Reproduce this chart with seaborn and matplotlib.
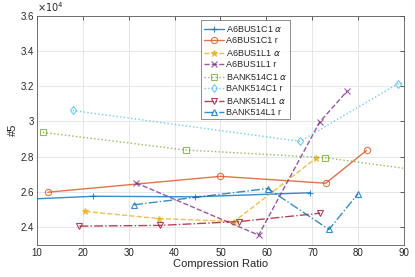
import matplotlib
matplotlib.use("Agg")
import matplotlib.pyplot as plt
import seaborn as sns
from matplotlib.ticker import FuncFormatter

# values (y in raw units, shown as x10^4)
a6c1_alpha_x = [5.0, 22.3, 44.45, 69.55]
a6c1_alpha_y = [25560, 25760, 25730, 25960]
a6c1_r_x = [12.4, 50.0, 72.9, 81.8]
a6c1_r_y = [25990, 26890, 26500, 28360]
a6l1_alpha_x = [20.6, 36.55, 53.0, 70.85]
a6l1_alpha_y = [24900, 24500, 24330, 27930]
a6l1_r_x = [31.6, 58.3, 71.6, 77.5]
a6l1_r_y = [26520, 23560, 29970, 31700]
b5c1_alpha_x = [11.37, 42.5, 72.7, 100.0]
b5c1_alpha_y = [29380, 28380, 27950, 26990]
b5c1_r_x = [17.83, 67.3, 88.6, 100.0]
b5c1_r_y = [30620, 28870, 32130, 32400]
b5l1_alpha_x = [19.3, 36.8, 54.1, 71.7]
b5l1_alpha_y = [24070, 24110, 24330, 24800]
b5l1_r_x = [31.2, 60.3, 73.6, 79.85]
b5l1_r_y = [25280, 26200, 23880, 25880]

labels = [r"A6BUS1C1 $\alpha$", "A6BUS1C1 r", r"A6BUS1L1 $\alpha$", "A6BUS1L1 r",
          r"BANK514C1 $\alpha$", "BANK514C1 r", r"BANK514L1 $\alpha$", "BANK514L1 r"]

series = [
    (a6c1_alpha_x, a6c1_alpha_y, "#0072BD", "-", "+"),
    (a6c1_r_x, a6c1_r_y, "#D95319", "-", "o"),
    (a6l1_alpha_x, a6l1_alpha_y, "#EDB120", "--", "*"),
    (a6l1_r_x, a6l1_r_y, "#7E2F8E", "--", "x"),
    (b5c1_alpha_x, b5c1_alpha_y, "#77AC30", ":", "s"),
    (b5c1_r_x, b5c1_r_y, "#4DBEEE", ":", "d"),
    (b5l1_alpha_x, b5l1_alpha_y, "#A2142F", "-.", "v"),
    (b5l1_r_x, b5l1_r_y, "#0072BD", "-.", "^"),
]

sns.set_theme(style="white")
plt.rcParams['font.family'] = ['Liberation Sans', 'DejaVu Sans']

fig = plt.figure(figsize=(4.15, 2.77), dpi=100)
ax = fig.add_axes([0.0884, 0.1155, 0.8858, 0.8285])

for (xs, ys, c, ls, m), lab in zip(series, labels):
    face = c if m == "*" else "none"
    sns.lineplot(x=xs, y=ys, ax=ax, color=c, linestyle=ls, marker=m, sort=False,
                 markersize=4.5, markerfacecolor=face, markeredgecolor=c,
                 markeredgewidth=0.8, linewidth=1.0, alpha=0.8, label=lab)

ax.set_xlim(10, 90)
ax.set_ylim(23000, 36000)
ax.set_xticks(range(10, 91, 10))
ax.set_yticks([24000, 26000, 28000, 30000, 32000, 34000, 36000])
ax.yaxis.set_major_formatter(FuncFormatter(lambda v, p: f"{v/1e4:g}"))
ax.grid(True, color="#e3e3e3", linewidth=0.6)
ax.tick_params(direction="in", length=3, width=0.5, labelsize=7, colors="#262626",
               top=True, right=True, pad=2)
for s in ax.spines.values():
    s.set_color("#5a5a5a")
    s.set_linewidth(0.6)

ax.set_xlabel("Compression Ratio", fontsize=8, color="#262626", labelpad=1)
ax.set_ylabel("#5", fontsize=8, color="#262626", labelpad=2)
ax.text(0.0, 1.005, r"$\times10^{4}$", transform=ax.transAxes, fontsize=7,
        ha="left", va="bottom", color="#262626")

leg = ax.legend(loc="upper left", bbox_to_anchor=(0.447, 0.98), borderaxespad=0,
                fontsize=6.5, frameon=True, fancybox=False, handlelength=2.2,
                handletextpad=0.3, labelspacing=0.22, borderpad=0.3)
leg.get_frame().set_edgecolor("#5a5a5a")
leg.get_frame().set_linewidth(0.6)

fig.savefig("out.png", dpi=100)
